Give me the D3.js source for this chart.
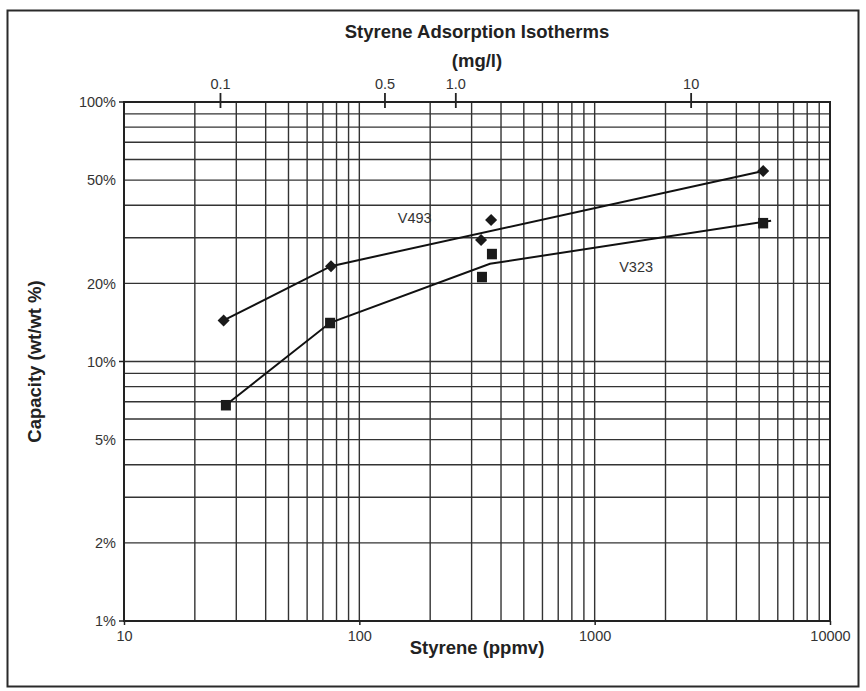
<!DOCTYPE html>
<html>
<head>
<meta charset="utf-8">
<script src="https://cdn.jsdelivr.net/npm/d3@7/dist/d3.min.js"></script>
<style>
  html, body { margin: 0; padding: 0; background: #fff; }
  svg text { font-family: "Liberation Sans", Arial, Helvetica, sans-serif; }
</style>
</head>
<body>
<svg id="chart" width="866" height="691"></svg>
<script>
// ---- data ----
const title = "Styrene Adsorption Isotherms";
const topAxisTitle = "(mg/l)";
const xAxisTitle = "Styrene (ppmv)";
const yAxisTitle = "Capacity (wt/wt %)";

const xTicks = [10, 100, 1000, 10000];
const xTickLabels = ["10", "100", "1000", "10000"];
const yTicks = [1, 2, 5, 10, 20, 50, 100];
const yTickLabels = ["1%", "2%", "5%", "10%", "20%", "50%", "100%"];
const topTicks = [0.1, 0.5, 1.0, 10];
const topTickLabels = ["0.1", "0.5", "1.0", "10"];
const mgPerLFactor = 257; // ppmv per mg/l

// V493 (diamonds)
const v493X = [26.5, 75.8, 329, 363, 5200];
const v493Y = [14.4, 23.3, 29.4, 35.1, 54.2];
const v493LineX = [26.5, 75.8, 5200];
const v493LineY = [14.4, 23.3, 54.2];
// V323 (squares)
const v323X = [27.1, 75.1, 332, 366, 5200];
const v323Y = [6.80, 14.1, 21.2, 26.0, 34.2];
const v323LineX = [27.1, 75.1, 359, 5620];
const v323LineY = [6.80, 14.1, 23.8, 34.9];

const seriesLabels = [
  { text: "V493", x: 172, y: 35.7 },
  { text: "V323", x: 1500, y: 23.1 }
];

// ---- layout ----
const svg = d3.select("#chart");
const L = 124, R = 830, T = 102, B = 621;
const x = d3.scaleLog().domain([10, 10000]).range([L, R]);
const y = d3.scaleLog().domain([1, 100]).range([B, T]);
const gridCol = "#333";
const ink = "#222";

// frame
svg.append("rect").attr("x", 7.5).attr("y", 10.5).attr("width", 851).attr("height", 676)
  .attr("fill", "none").attr("stroke", "#2a2a2a").attr("stroke-width", 2);

// grid values
const xGrid = [];
for (let d = 10; d < 10000; d *= 10) for (let k = 1; k <= 9; k++) xGrid.push(d * k);
xGrid.push(10000);
const yGrid = [];
for (let d = 1; d < 100; d *= 10) for (let k = 1; k <= 9; k++) yGrid.push(d * k);
yGrid.push(100);

const g = svg.append("g");
g.selectAll("line.vg").data(xGrid).enter().append("line")
  .attr("x1", d => x(d)).attr("x2", d => x(d)).attr("y1", T).attr("y2", B)
  .attr("stroke", gridCol).attr("stroke-width", 1.4);
g.selectAll("line.hg").data(yGrid).enter().append("line")
  .attr("y1", d => y(d)).attr("y2", d => y(d)).attr("x1", L).attr("x2", R)
  .attr("stroke", gridCol).attr("stroke-width", 1.4);

// axes frame lines
svg.append("line").attr("x1", L).attr("x2", L).attr("y1", T).attr("y2", B).attr("stroke", ink).attr("stroke-width", 2);
svg.append("line").attr("x1", L - 1).attr("x2", R + 1).attr("y1", B).attr("y2", B).attr("stroke", ink).attr("stroke-width", 2);
svg.append("line").attr("x1", L - 1).attr("x2", R + 1).attr("y1", T).attr("y2", T).attr("stroke", ink).attr("stroke-width", 2);
svg.append("line").attr("x1", R).attr("x2", R).attr("y1", T).attr("y2", B).attr("stroke", ink).attr("stroke-width", 2);

// bottom axis
const xAxis = d3.axisBottom(x).tickValues(xTicks).tickFormat((d, i) => xTickLabels[i]).tickSize(4).tickPadding(6);
const xa = svg.append("g").attr("transform", `translate(0,${B})`).call(xAxis);
xa.select(".domain").remove();
xa.selectAll("line").attr("stroke", ink).attr("stroke-width", 1.5);
xa.selectAll("text").attr("font-size", 14.5).attr("fill", "#333").attr("font-family", "Liberation Sans, Arial, sans-serif");

// left axis
const yAxis = d3.axisLeft(y).tickValues(yTicks).tickFormat((d, i) => yTickLabels[i]).tickSize(0).tickPadding(8);
const ya = svg.append("g").attr("transform", `translate(${L},0)`).call(yAxis);
ya.select(".domain").remove();
ya.selectAll("text").attr("font-size", 14.5).attr("fill", "#333").attr("font-family", "Liberation Sans, Arial, sans-serif");
// decade ticks on left
svg.selectAll("line.yt").data([1, 10, 100]).enter().append("line")
  .attr("x1", L - 5).attr("x2", L).attr("y1", d => y(d)).attr("y2", d => y(d))
  .attr("stroke", ink).attr("stroke-width", 1.5);

// top axis (mg/l)
const topG = svg.append("g");
topG.selectAll("line").data(topTicks).enter().append("line")
  .attr("x1", d => x(d * mgPerLFactor)).attr("x2", d => x(d * mgPerLFactor))
  .attr("y1", T - 9).attr("y2", T + 6).attr("stroke", ink).attr("stroke-width", 1.8);
topG.selectAll("text").data(topTicks).enter().append("text")
  .attr("x", d => x(d * mgPerLFactor)).attr("y", T - 13)
  .attr("text-anchor", "middle").attr("font-size", 14.5).attr("fill", "#333")
  .text((d, i) => topTickLabels[i]);

// titles
const tfs = 18.5;
svg.append("text").attr("x", 477).attr("y", 38).attr("text-anchor", "middle")
  .attr("font-size", tfs).attr("font-weight", "bold").attr("fill", ink).text(title);
svg.append("text").attr("x", 477).attr("y", 67).attr("text-anchor", "middle")
  .attr("font-size", tfs).attr("font-weight", "bold").attr("fill", ink).text(topAxisTitle);
svg.append("text").attr("x", 477).attr("y", 654).attr("text-anchor", "middle")
  .attr("font-size", tfs).attr("font-weight", "bold").attr("fill", ink).text(xAxisTitle);
svg.append("text").attr("transform", `translate(41,${(T + B) / 2}) rotate(-90)`)
  .attr("text-anchor", "middle").attr("font-size", tfs).attr("font-weight", "bold").attr("fill", ink).text(yAxisTitle);

// series lines
const line = d3.line().x(d => x(d[0])).y(d => y(d[1]));
svg.append("path").datum(v493LineX.map((v, i) => [v, v493LineY[i]]))
  .attr("d", line).attr("fill", "none").attr("stroke", "#111").attr("stroke-width", 2);
svg.append("path").datum(v323LineX.map((v, i) => [v, v323LineY[i]]))
  .attr("d", line).attr("fill", "none").attr("stroke", "#111").attr("stroke-width", 2);

// markers
const diamond = d3.symbol().type(d3.symbolDiamond2).size(92);
svg.selectAll("path.dia").data(v493X.map((v, i) => [v, v493Y[i]])).enter().append("path")
  .attr("d", diamond).attr("transform", d => `translate(${x(d[0])},${y(d[1])})`)
  .attr("fill", "#1a1a1a");
svg.selectAll("rect.sq").data(v323X.map((v, i) => [v, v323Y[i]])).enter().append("rect")
  .attr("x", d => x(d[0]) - 5).attr("y", d => y(d[1]) - 5).attr("width", 10).attr("height", 10.5)
  .attr("fill", "#1a1a1a");

// series labels
svg.selectAll("text.sl").data(seriesLabels).enter().append("text")
  .attr("x", d => x(d.x)).attr("y", d => y(d.y)).attr("text-anchor", "middle").attr("dy", "0.35em")
  .attr("font-size", 14.5).attr("fill", "#333").text(d => d.text);
</script>
</body>
</html>
